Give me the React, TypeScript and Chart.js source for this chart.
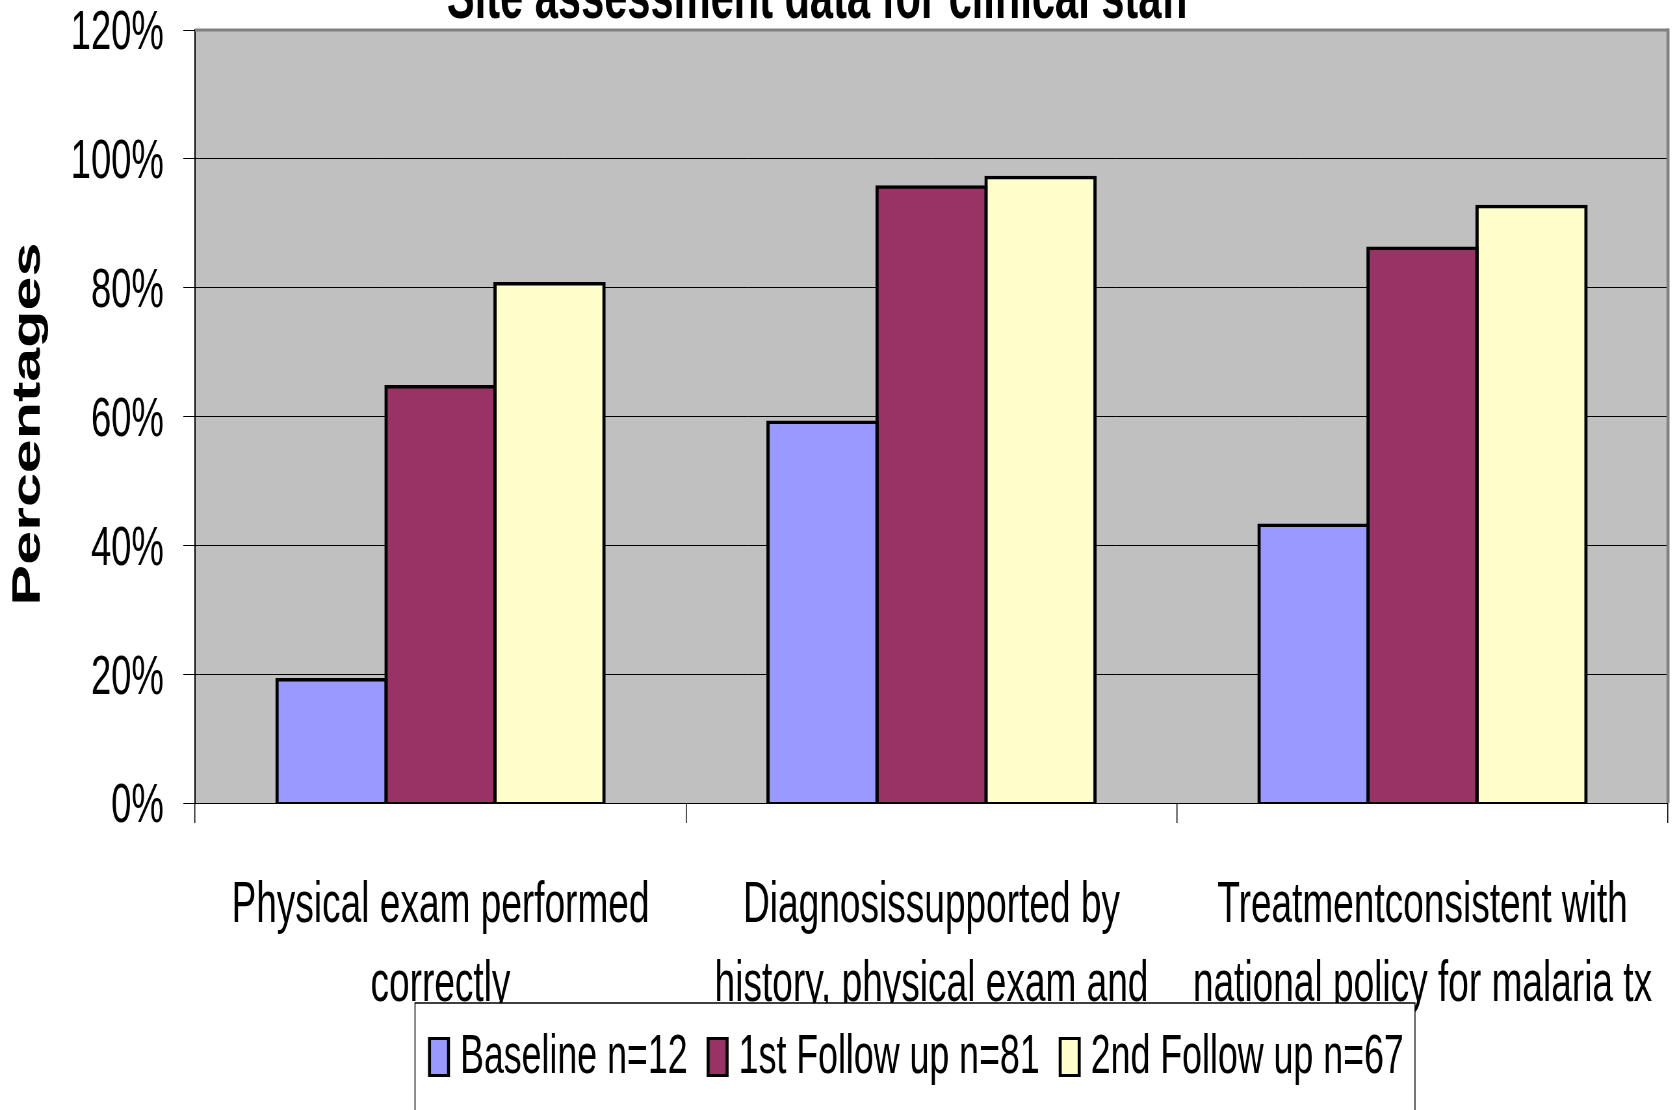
import React, { useEffect, useRef } from "react";
import { Chart, registerables } from "chart.js";

Chart.register(...registerables);

const categories: string[][] = [
  ["Physical exam performed", "correctly"],
  ["Diagnosissupported by", "history, physical exam and"],
  ["Treatmentconsistent with", "national policy for malaria tx"],
];
const seriesNames = ["Baseline n=12", "1st Follow up n=81", "2nd Follow up n=67"];
const baseline = [19, 59, 43];
const firstFollowUp = [64.5, 95.5, 86];
const secondFollowUp = [80.5, 97, 92.5];
const seriesColors = ["#9999FF", "#993366", "#FFFFCC"];
const yTickValues = [0, 20, 40, 60, 80, 100, 120];
const titleText = "Site assessment data for clinical staff";
const yAxisTitle = "Percentages";

const FONT = "'Liberation Sans', Arial, Helvetica, sans-serif";
const SX = 0.65; // horizontal squeeze of the whole picture
const W = 1677;
const H = 1110;
const IW = Math.round(W / SX);
const ix = (d: number) => d / SX;

const plotBg = {
  id: "plotBg",
  beforeDraw(chart: any) {
    const { ctx, chartArea: a } = chart;
    ctx.save();
    ctx.fillStyle = "#C0C0C0";
    ctx.fillRect(a.left, a.top, a.right - a.left, a.bottom - a.top);
    ctx.restore();
  },
  beforeDatasetsDraw(chart: any) {
    const { ctx, chartArea: a } = chart;
    ctx.save();
    ctx.fillStyle = "#808080";
    ctx.fillRect(a.left, a.top - 1.5, a.right - a.left, 3);
    ctx.fillRect(a.right - ix(1.5), a.top - 1.5, ix(3), a.bottom - a.top + 1.5);
    ctx.restore();
  },
};

const overlay = {
  id: "overlay",
  afterDraw(chart: any) {
    const ctx = chart.ctx;
    ctx.save();
    // legend box
    const bx = ix(415);
    const by = 1003;
    const bw = ix(1415) - ix(415);
    ctx.fillStyle = "#ffffff";
    ctx.fillRect(bx, by, bw, 200);
    ctx.strokeStyle = "#000";
    ctx.lineWidth = 1.5;
    ctx.strokeRect(bx, by, bw, 200);
    ctx.font = `55px ${FONT}`;
    ctx.textBaseline = "middle";
    ctx.textAlign = "left";
    let x = ix(428);
    chart.data.datasets.forEach((ds: any) => {
      const sw = ix(22);
      const sh = 40;
      const sy = 1037;
      ctx.fillStyle = "#000";
      ctx.fillRect(x, sy, sw, sh);
      ctx.fillStyle = ds.backgroundColor;
      ctx.fillRect(x + ix(3), sy + 3, sw - ix(6), sh - 6);
      const tx = x + sw + ix(10);
      ctx.fillStyle = "#000";
      ctx.fillText(ds.label, tx, 1058);
      x = tx + ctx.measureText(ds.label).width + ix(19);
    });
    // y axis title
    ctx.save();
    ctx.translate(ix(29), 424);
    ctx.rotate(-Math.PI / 2);
    ctx.font = `bold 61px ${FONT}`;
    ctx.textAlign = "center";
    ctx.textBaseline = "middle";
    ctx.fillStyle = "#000";
    ctx.fillText(yAxisTitle, 0, 0);
    ctx.restore();
    // title (cut off at the top edge)
    ctx.font = `bold 64px ${FONT}`;
    ctx.textAlign = "center";
    ctx.textBaseline = "alphabetic";
    ctx.fillStyle = "#000";
    ctx.fillText(titleText, ix(818), 18);
    ctx.restore();
  },
};

export default function App() {
  const ref = useRef<HTMLCanvasElement | null>(null);

  useEffect(() => {
    if (!ref.current) return;
    Chart.defaults.font.family = FONT;
    const seriesData = [baseline, firstFollowUp, secondFollowUp];
    const chart = new Chart(ref.current, {
      type: "bar",
      data: {
        labels: categories,
        datasets: seriesNames.map((name, i) => ({
          label: name,
          data: seriesData[i],
          backgroundColor: seriesColors[i],
          borderColor: "#000",
          borderWidth: { top: 3.5, bottom: 3, left: 5, right: 5 },
          borderSkipped: false,
          inflateAmount: 2.5,
          categoryPercentage: 0.666,
          barPercentage: 1,
        })),
      },
      options: {
        responsive: false,
        animation: false,
        layout: { padding: { top: 30, right: IW - ix(1668), left: 0, bottom: 0 } },
        plugins: {
          legend: { display: false },
          title: { display: false },
          tooltip: { enabled: false },
        },
        scales: {
          x: {
            grid: {
              display: true,
              drawOnChartArea: false,
              drawTicks: true,
              tickLength: 20,
              color: "#000",
              lineWidth: 1.5,
              offset: true,
            },
            border: { display: true, color: "#000", width: 1 },
            ticks: {
              color: "#000",
              font: { size: 57, lineHeight: 1.4 },
              padding: 43,
              maxRotation: 0,
              minRotation: 0,
              autoSkip: false,
            },
            afterFit: (s: any) => {
              s.height = H - 803;
              s.paddingLeft = 0;
              s.paddingRight = 0;
            },
          },
          y: {
            min: 0,
            max: 120,
            afterBuildTicks: (s: any) => {
              s.ticks = yTickValues.map((v) => ({ value: v }));
            },
            ticks: {
              stepSize: 20,
              callback: (v: any) => v + "%",
              color: "#000",
              font: { size: 56 },
              padding: 30,
              labelOffset: 4,
            },
            grid: {
              color: (c: any) => (c.tick && c.tick.value === 120 ? "rgba(0,0,0,0)" : "#000"),
              lineWidth: 1,
              tickColor: "#000",
              tickLength: 18,
              drawTicks: true,
            },
            border: { display: true, color: "#000", width: 2 },
            title: { display: false },
            afterFit: (s: any) => {
              s.width = ix(195);
              s.paddingTop = 0;
              s.paddingBottom = 0;
            },
          },
        },
      } as any,
      plugins: [plotBg, overlay],
    });
    return () => chart.destroy();
  }, []);

  return (
    <div style={{ position: "absolute", left: 0, top: 0, width: W, height: H, overflow: "hidden", background: "#fff" }}>
      <canvas
        ref={ref}
        width={IW}
        height={H}
        style={{ width: `${W}px`, height: `${H}px`, display: "block" }}
      />
    </div>
  );
}
